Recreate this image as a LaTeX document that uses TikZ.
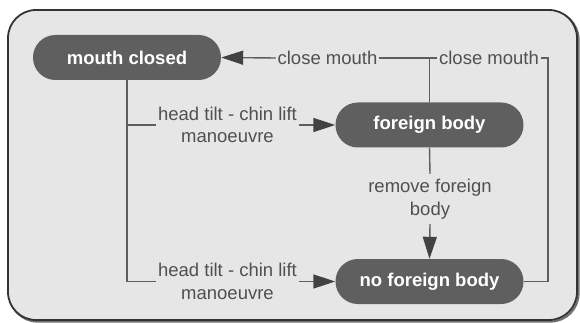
\documentclass[tikz,border=0pt]{standalone}
\usepackage{fontspec}
\setmainfont{Liberation Sans}
\usetikzlibrary{arrows.meta}
\definecolor{bgc}{HTML}{E6E6E6}
\definecolor{bordc}{HTML}{333333}
\definecolor{nodec}{HTML}{5F5F5F}
\definecolor{linec}{HTML}{5E5E5E}
\definecolor{tipc}{HTML}{424242}
\definecolor{txtc}{HTML}{505050}
\tikzset{
  statebox/.style={draw=none, fill=nodec, rounded corners=22.4pt, minimum width=188pt, minimum height=45pt, inner sep=0pt, text=white, font=\fontsize{18.5}{22.5}\selectfont\bfseries},
  lbl/.style={text=txtc, align=center, inner xsep=1.5pt, inner ysep=5pt, font=\fontsize{18.5}{22.5}\selectfont},
  conn/.style={draw=linec, line width=1.4pt},
  arr/.style={conn, -{Triangle[length=22pt,width=14pt,color=tipc,fill=tipc]}}
}
\begin{document}
\begin{tikzpicture}[x=1pt,y=-1pt]
\useasboundingbox (0,0) rectangle (580,323);
\draw[bordc!70, line width=2.2pt, rounded corners=28pt] (9.5,11.5) rectangle (578.5,321.5);
\draw[bordc, fill=bgc, line width=1.8pt, rounded corners=28pt] (8,10) rectangle (577,320);

\node[statebox] (mc) at (127,57.5) {mouth closed};
\node[statebox] (fb) at (429.5,125) {foreign body};
\node[statebox] (nfb) at (429.5,281.5) {no foreign body};

\node[lbl] (l1) at (227.5,125) {head tilt - chin lift\\manoeuvre};
\node[lbl] (l2) at (227.5,281.5) {head tilt - chin lift\\manoeuvre};
\node[lbl] (l3) at (327.5,58) {close mouth};
\node[lbl] (l4) at (489,58) {close mouth};
\node[lbl] (l5) at (430,199) {remove foreign\\body};
\coordinate (c1) at (548,58);

\draw[conn] (fb.north) |- (l3.east);
\draw[arr] (l3.west) -- (mc.east);
\draw[conn] (nfb.east) -| (c1) -- (l4.east);
\draw[conn] (l4.west) -- (fb.north |- l4.west);
\draw[conn] (mc.south) |- (l1.west);
\draw[conn] (mc.south) |- (l2.west);
\draw[arr] (l1.east) -- (fb.west);
\draw[arr] (l2.east) -- (nfb.west);
\draw[conn] (fb.south) -- (l5.north);
\draw[arr] (l5.south) -- (nfb.north);
\end{tikzpicture}
\end{document}
